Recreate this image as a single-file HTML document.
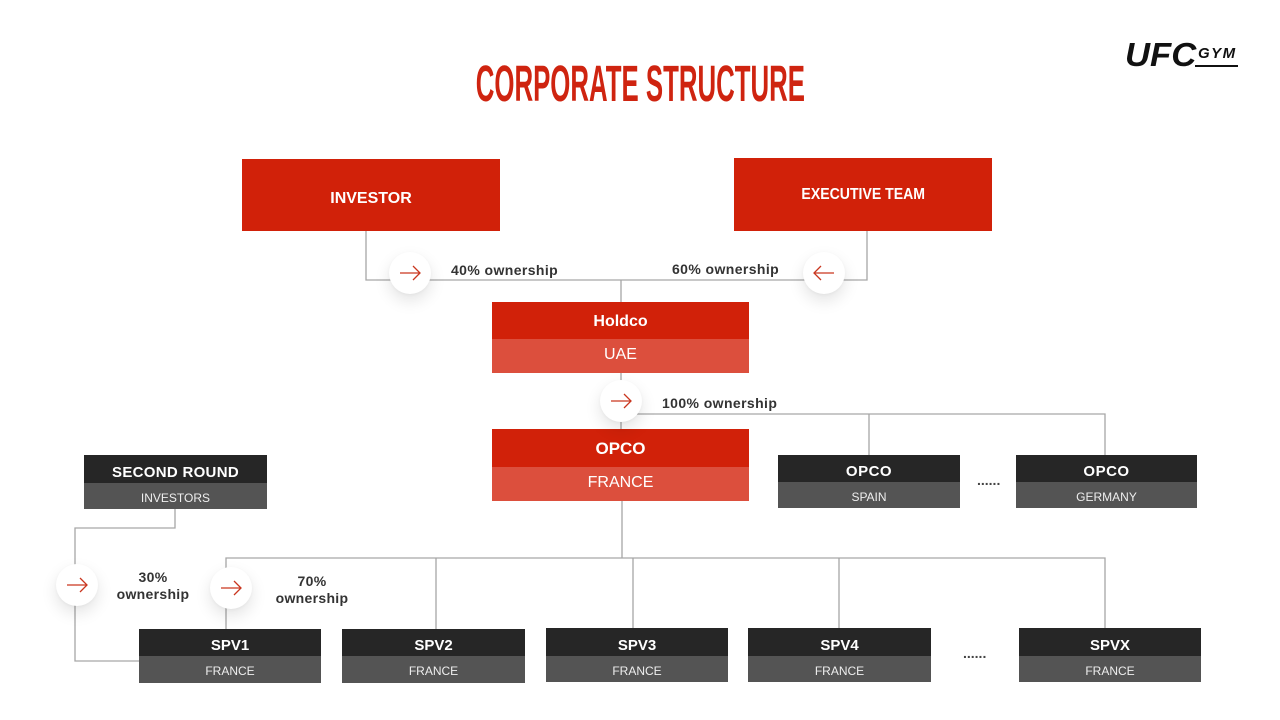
<!DOCTYPE html>
<html>
<head>
<meta charset="utf-8">
<style>
  html,body{margin:0;padding:0;}
  body{width:1280px;height:720px;background:#fff;position:relative;overflow:hidden;font-family:"Liberation Sans",sans-serif;}
  .abs{position:absolute;}
  .red{background:#d12109;color:#fff;display:flex;align-items:center;justify-content:center;font-weight:bold;font-size:16px;}
  .split{position:absolute;}
  .split .t,.split .b{position:absolute;left:0;right:0;display:flex;align-items:center;justify-content:center;color:#fff;box-sizing:border-box;}
  .rt{background:#d12109;font-weight:bold;}
  .rb{background:#dc4f3d;font-size:16px;}
  .dt{background:#262626;font-weight:bold;padding-top:6px;}
  .db{background:#545454;font-size:12px;color:#eee !important;padding-top:3px;}
  .circ{position:absolute;width:42px;height:42px;border-radius:50%;background:#fff;box-shadow:0 7px 16px rgba(0,0,0,0.11),0 1px 3px rgba(0,0,0,0.04);}
  .circ svg{position:absolute;left:0;top:0;}
  .lbl{position:absolute;font-weight:bold;font-size:14px;color:#333;white-space:nowrap;letter-spacing:0.4px;}
  .lbl2{position:absolute;font-weight:bold;font-size:14px;color:#333;text-align:center;line-height:17px;letter-spacing:0.3px;}
  .dots{position:absolute;font-size:14px;color:#444;font-weight:bold;letter-spacing:0px;}
</style>
</head>
<body>

<!-- Title -->
<div class="abs" style="left:240px;top:56px;width:800px;text-align:center;white-space:nowrap;">
  <span style="display:inline-block;font-weight:bold;font-size:51px;color:#cf2410;transform:scaleX(0.506);transform-origin:center;line-height:56px;white-space:nowrap;">CORPORATE STRUCTURE</span>
</div>

<!-- Logo -->
<div class="abs" style="left:1125px;top:35px;font-weight:900;font-style:italic;font-size:33px;color:#111;line-height:40px;white-space:nowrap;"><span style="display:inline-block;transform:scaleX(1.05);transform-origin:left;">UFC</span></div>
<div class="abs" style="left:1198px;top:45px;font-weight:bold;font-style:italic;font-size:15px;color:#111;letter-spacing:1.5px;line-height:17px;">GYM</div>
<div class="abs" style="left:1195px;top:65px;width:43px;height:2px;background:#111;"></div>

<!-- Connector lines -->
<svg class="abs" style="left:0;top:0;" width="1280" height="720">
  <g stroke="#a6a6a6" stroke-width="1.3" fill="none">
    <polyline points="366,231 366,280 867,280 867,231"/>
    <line x1="621" y1="280" x2="621" y2="302"/>
    <line x1="621" y1="373" x2="621" y2="429"/>
    <polyline points="637,414 1105,414 1105,455"/>
    <line x1="869" y1="414" x2="869" y2="455"/>
    <line x1="622" y1="501" x2="622" y2="558"/>
    <polyline points="226,629 226,558 1105,558 1105,628"/>
    <line x1="436" y1="558" x2="436" y2="629"/>
    <line x1="633" y1="558" x2="633" y2="628"/>
    <line x1="839" y1="558" x2="839" y2="628"/>
    <polyline points="175,509 175,528 75,528 75,661 139,661"/>
  </g>
</svg>

<!-- Top boxes -->
<div class="abs red" style="left:242px;top:159px;width:258px;height:72px;box-sizing:border-box;padding-top:7px;">INVESTOR</div>
<div class="abs red" style="left:734px;top:158px;width:258px;height:73px;"><span style="display:inline-block;transform:scaleX(0.88);white-space:nowrap;">EXECUTIVE TEAM</span></div>

<!-- Holdco -->
<div class="split" style="left:492px;top:302px;width:257px;height:71px;">
  <div class="t rt" style="top:0;height:37px;font-size:16px;padding-top:3px;">Holdco</div>
  <div class="b rb" style="top:37px;height:34px;padding-bottom:3px;">UAE</div>
</div>

<!-- OPCO France -->
<div class="split" style="left:492px;top:429px;width:257px;height:72px;">
  <div class="t rt" style="top:0;height:38px;font-size:17px;padding-top:1px;">OPCO</div>
  <div class="b rb" style="top:38px;height:34px;padding-bottom:2px;">FRANCE</div>
</div>

<!-- Second round -->
<div class="split" style="left:84px;top:455px;width:183px;height:54px;">
  <div class="t dt" style="top:0;height:28px;font-size:15px;letter-spacing:0.3px;">SECOND ROUND</div>
  <div class="b db" style="top:28px;height:26px;">INVESTORS</div>
</div>

<!-- OPCO Spain / Germany -->
<div class="split" style="left:778px;top:455px;width:182px;height:53px;">
  <div class="t dt" style="top:0;height:27px;font-size:15px;letter-spacing:0.5px;">OPCO</div>
  <div class="b db" style="top:27px;height:26px;">SPAIN</div>
</div>
<div class="dots" style="left:977px;top:472px;">......</div>
<div class="split" style="left:1016px;top:455px;width:181px;height:53px;">
  <div class="t dt" style="top:0;height:27px;font-size:15px;letter-spacing:0.5px;">OPCO</div>
  <div class="b db" style="top:27px;height:26px;">GERMANY</div>
</div>

<!-- SPVs -->
<div class="split" style="left:139px;top:629px;width:182px;height:54px;">
  <div class="t dt" style="top:0;height:27px;font-size:15px;">SPV1</div>
  <div class="b db" style="top:27px;height:27px;">FRANCE</div>
</div>
<div class="split" style="left:342px;top:629px;width:183px;height:54px;">
  <div class="t dt" style="top:0;height:27px;font-size:15px;">SPV2</div>
  <div class="b db" style="top:27px;height:27px;">FRANCE</div>
</div>
<div class="split" style="left:546px;top:628px;width:182px;height:54px;">
  <div class="t dt" style="top:0;height:28px;font-size:15px;">SPV3</div>
  <div class="b db" style="top:28px;height:26px;">FRANCE</div>
</div>
<div class="split" style="left:748px;top:628px;width:183px;height:54px;">
  <div class="t dt" style="top:0;height:28px;font-size:15px;">SPV4</div>
  <div class="b db" style="top:28px;height:26px;">FRANCE</div>
</div>
<div class="dots" style="left:963px;top:645px;">......</div>
<div class="split" style="left:1019px;top:628px;width:182px;height:54px;">
  <div class="t dt" style="top:0;height:28px;font-size:15px;">SPVX</div>
  <div class="b db" style="top:28px;height:26px;">FRANCE</div>
</div>

<!-- Circles with arrows -->
<div class="circ" style="left:389px;top:252px;">
  <svg width="42" height="42"><g stroke="#c9361f" stroke-width="1.3" fill="none"><line x1="11" y1="21" x2="31" y2="21"/><polyline points="24,14 31,21 24,28"/></g></svg>
</div>
<div class="circ" style="left:803px;top:252px;">
  <svg width="42" height="42"><g stroke="#c9361f" stroke-width="1.3" fill="none"><line x1="11" y1="21" x2="31" y2="21"/><polyline points="18,14 11,21 18,28"/></g></svg>
</div>
<div class="circ" style="left:600px;top:380px;">
  <svg width="42" height="42"><g stroke="#c9361f" stroke-width="1.3" fill="none"><line x1="11" y1="21" x2="31" y2="21"/><polyline points="24,14 31,21 24,28"/></g></svg>
</div>
<div class="circ" style="left:56px;top:564px;">
  <svg width="42" height="42"><g stroke="#c9361f" stroke-width="1.3" fill="none"><line x1="11" y1="21" x2="31" y2="21"/><polyline points="24,14 31,21 24,28"/></g></svg>
</div>
<div class="circ" style="left:210px;top:567px;">
  <svg width="42" height="42"><g stroke="#c9361f" stroke-width="1.3" fill="none"><line x1="11" y1="21" x2="31" y2="21"/><polyline points="24,14 31,21 24,28"/></g></svg>
</div>

<!-- Ownership labels -->
<div class="lbl" style="left:451px;top:262px;">40% ownership</div>
<div class="lbl" style="left:672px;top:261px;">60% ownership</div>
<div class="lbl" style="left:662px;top:395px;">100% ownership</div>
<div class="lbl2" style="left:103px;top:569px;width:100px;">30%<br>ownership</div>
<div class="lbl2" style="left:262px;top:573px;width:100px;">70%<br>ownership</div>

</body>
</html>
